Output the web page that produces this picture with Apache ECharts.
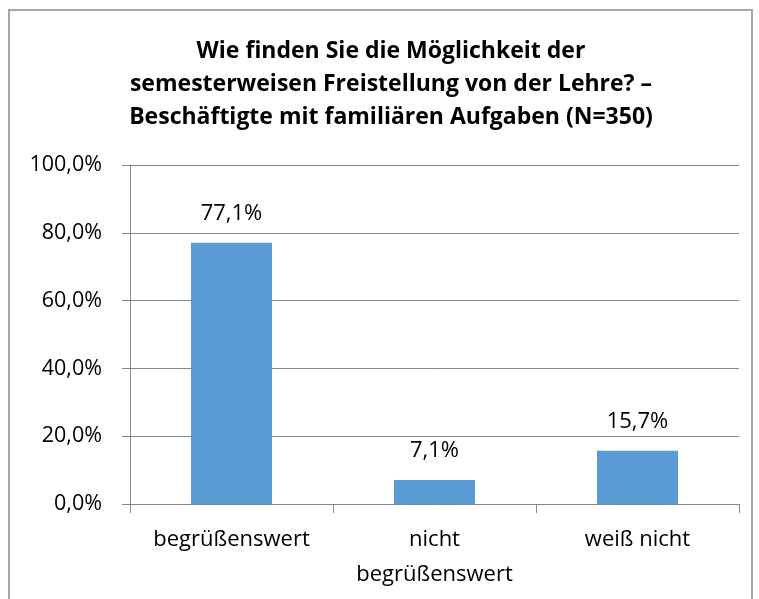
<!DOCTYPE html>
<html>
<head>
<meta charset="utf-8">
<script src="https://cdn.jsdelivr.net/npm/echarts@6/dist/echarts.min.js"></script>
<style>
  html, body { margin: 0; padding: 0; background: #fff; }
  #chart { width: 759px; height: 599px; }
</style>
</head>
<body>
<div id="chart"></div>
<script>
// Daten
const categories = ['begrüßenswert', 'nicht\nbegrüßenswert', 'weiß nicht'];
const values = [77.1, 7.1, 15.7];
const yTicks = [0, 20, 40, 60, 80, 100];

const titleText = 'Wie finden Sie die Möglichkeit der\nsemesterweisen Freistellung von der Lehre? –\nBeschäftigte mit familiären Aufgaben (N=350)';
const fontFam = '"Open Sans", "Noto Sans", sans-serif';

// Prozent mit Komma
function pct(v) {
  return v.toFixed(1).replace('.', ',') + '%';
}

let chart = echarts.init(document.getElementById('chart'));
chart.setOption({
  animation: false,
  title: {
    text: titleText,
    left: 386,
    textAlign: 'center',
    top: 30,
    textStyle: {
      fontFamily: fontFam,
      fontWeight: 'bold',
      fontSize: 23,
      lineHeight: 33,
      color: '#000'
    }
  },
  graphic: [{
    type: 'rect',
    shape: { x: 9, y: 10, width: 743, height: 620 },
    style: { fill: 'none', stroke: '#a6a6a6', lineWidth: 2 },
    silent: true
  }],
  grid: {
    left: 130,
    right: 20,
    top: 165,
    bottom: 95,
    containLabel: false
  },
  xAxis: {
    type: 'category',
    data: categories,
    axisLine: { lineStyle: { color: '#868686' } },
    axisTick: { show: true, length: 9, lineStyle: { color: '#868686' } },
    axisLabel: {
      interval: 0,
      hideOverlap: false,
      fontFamily: fontFam,
      fontSize: 22,
      lineHeight: 35,
      color: '#000',
      margin: 18
    }
  },
  yAxis: {
    type: 'value',
    min: 0,
    max: 100,
    interval: 20,
    axisLine: { show: true, lineStyle: { color: '#868686' } },
    axisTick: { show: true, length: 8, lineStyle: { color: '#868686' } },
    splitLine: { lineStyle: { color: '#868686' } },
    axisLabel: {
      fontFamily: fontFam,
      fontSize: 21.5,
      color: '#000',
      margin: 28,
      formatter: v => yTicks.indexOf(v) >= 0 ? pct(v) : ''
    }
  },
  series: [{
    type: 'bar',
    data: values,
    barWidth: 81,
    itemStyle: { color: '#5b9bd5' },
    label: {
      show: true,
      position: 'top',
      distance: 18,
      fontFamily: fontFam,
      fontSize: 22,
      color: '#000',
      formatter: p => pct(p.value)
    }
  }]
});
</script>
</body>
</html>
